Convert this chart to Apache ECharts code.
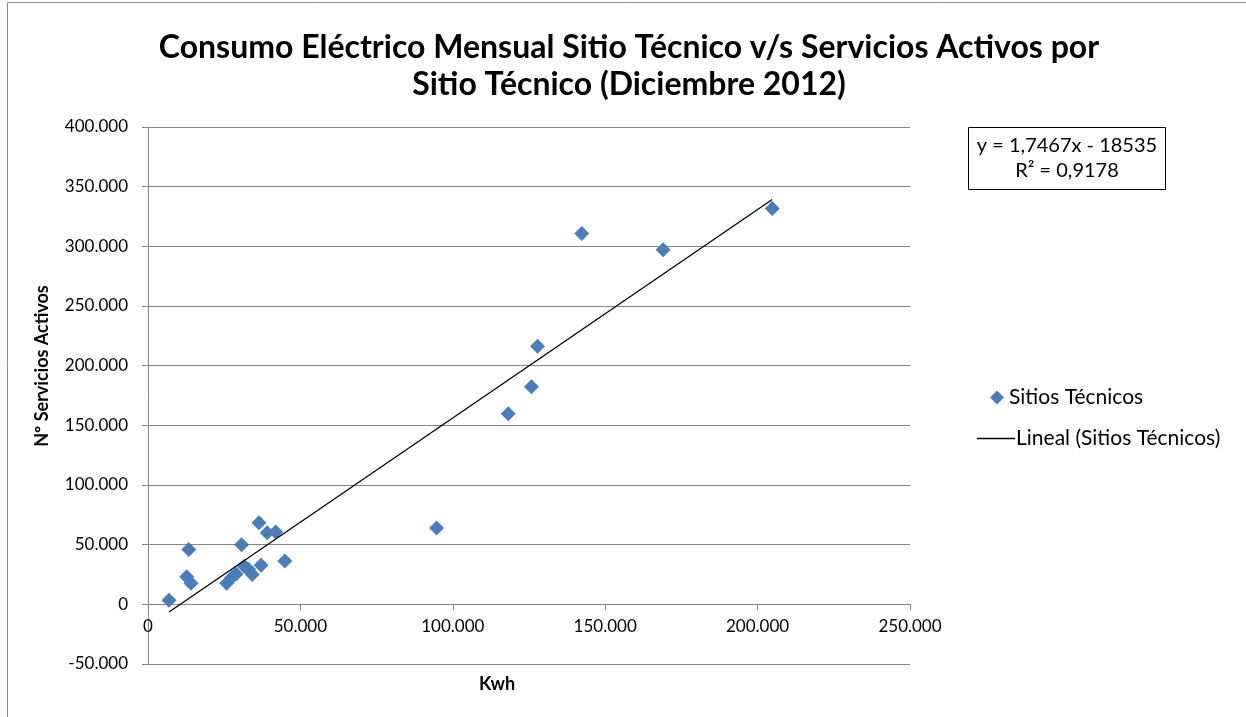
<!DOCTYPE html>
<html>
<head>
<meta charset="utf-8">
<script src="https://cdn.jsdelivr.net/npm/echarts@6/dist/echarts.min.js"></script>
<style>
  html, body { margin: 0; padding: 0; background: #fff; }
  #chart { width: 1246px; height: 717px; }
</style>
</head>
<body>
<div id="chart"></div>
<script>
// Monthly consumption (kWh) per technical site and its active services
const kwh = [6900, 12700, 13400, 14100, 25800, 27500, 28900, 31600, 33000, 34200,
             30700, 37100, 44900, 36400, 39100, 41900, 94700, 118200, 125800, 127800,
             142300, 169000, 204800];
const servicios = [3400, 23200, 46000, 17600, 17600, 22400, 25500, 32000, 29500, 25100,
                   50000, 32700, 36300, 68400, 60000, 60600, 63900, 159700, 182300, 216300,
                   310700, 297100, 331700];

// Linear trend as stated in the equation box
const slope = 1.7467;
const intercept = -18535;
const r2 = 0.9178;

const xTicks = [0, 50000, 100000, 150000, 200000, 250000];
const yTicks = [-50000, 0, 50000, 100000, 150000, 200000, 250000, 300000, 350000, 400000];

const FONT = 'Lato';
const fmt = v => {
  const s = Math.abs(v).toString().replace(/\B(?=(\d{3})+(?!\d))/g, '.');
  return (v < 0 ? '-' : '') + s;
};
const fmtDec = (v, d) => v.toFixed(d).replace('.', ',');

const points = kwh.map((x, i) => [x, servicios[i]]);
const xMin = Math.min(...kwh), xMax = Math.max(...kwh);
const trend = [[xMin, slope * xMin + intercept], [xMax, slope * xMax + intercept]];

// plot box
const G = { left: 148, right: 336, top: 127, bottom: 53 };
const plotH = 717 - G.top - G.bottom;
const yMin = yTicks[0], yMax = yTicks[yTicks.length - 1];
// shift the x axis up so it sits on y = 0
const xAxisOffset = -plotH * (0 - yMin) / (yMax - yMin);

const chart = echarts.init(document.getElementById('chart'), null, { renderer: 'canvas' });
chart.setOption({
  backgroundColor: '#ffffff',
  animation: false,
  textStyle: { fontFamily: FONT, color: '#000' },
  title: {
    text: 'Consumo Eléctrico Mensual Sitio Técnico v/s Servicios Activos por\nSitio Técnico (Diciembre 2012)',
    left: 624, top: 24, textAlign: 'center',
    textStyle: { fontFamily: FONT, fontWeight: 'bold', fontSize: 32, lineHeight: 37, color: '#000' }
  },
  grid: { left: G.left, right: G.right, top: G.top, bottom: G.bottom, containLabel: false },
  xAxis: {
    type: 'value', min: xTicks[0], max: xTicks[xTicks.length - 1], interval: 50000,
    offset: xAxisOffset,
    axisLine: { onZero: false, lineStyle: { color: '#868686', width: 1 } },
    axisTick: { show: true, length: 6, lineStyle: { color: '#868686' } },
    axisLabel: { formatter: fmt, fontFamily: FONT, fontSize: 17, color: '#000', margin: 14 },
    splitLine: { show: false }
  },
  yAxis: {
    type: 'value', min: yMin, max: yMax, interval: 50000,
    axisLine: { show: true, lineStyle: { color: '#868686', width: 1 } },
    axisTick: { show: true, length: 6, lineStyle: { color: '#868686' } },
    axisLabel: { formatter: fmt, fontFamily: FONT, fontSize: 17, color: '#000', margin: 20 },
    splitLine: { show: true, lineStyle: { color: '#868686', width: 1 } }
  },
  legend: [
    {
      data: [{ name: 'Sitios Técnicos', icon: 'diamond' }],
      left: 985, top: 382, itemWidth: 14, itemHeight: 14, itemGap: 10,
      textStyle: { fontFamily: FONT, fontSize: 21, color: '#000' }
    },
    {
      data: [{ name: 'Lineal (Sitios Técnicos)', icon: 'rect', itemStyle: { color: '#000' } }],
      left: 972, top: 423, itemWidth: 38, itemHeight: 1.3, itemGap: 2,
      textStyle: { fontFamily: FONT, fontSize: 21, color: '#000', padding: [0, 0, 0, -4] }
    }
  ],
  series: [
    {
      name: 'Sitios Técnicos', type: 'scatter', data: points,
      symbol: 'diamond', symbolSize: 15,
      itemStyle: { color: '#4A7EBB', opacity: 1 }, z: 3
    },
    {
      name: 'Lineal (Sitios Técnicos)', type: 'line', data: trend,
      symbol: 'none', lineStyle: { color: '#000', width: 1.3 }, itemStyle: { color: '#000' },
      z: 4
    }
  ],
  graphic: [
    {
      type: 'rect', shape: { x: 7.5, y: 2.5, width: 1400, height: 900 },
      style: { fill: null, stroke: '#8c8c8c', lineWidth: 1 }, silent: true
    },
    {
      type: 'text', x: 42, y: 366, rotation: Math.PI / 2,
      style: { text: 'Nº Servicios Activos', x: 0, y: 0, align: 'center', verticalAlign: 'middle',
               font: 'bold 18px ' + FONT, fill: '#000' }
    },
    {
      type: 'text', x: 497, y: 684,
      style: { text: 'Kwh', align: 'center', verticalAlign: 'middle',
               font: 'bold 18px ' + FONT, fill: '#000' }
    },
    {
      type: 'group', left: 968, top: 127,
      children: [
        { type: 'rect', shape: { x: 0.5, y: 0.5, width: 197, height: 62 },
          style: { fill: '#fff', stroke: '#000', lineWidth: 1 } },
        { type: 'text', x: 99, y: 19,
          style: { text: 'y = ' + fmtDec(slope, 4) + 'x - ' + Math.abs(intercept), align: 'center',
                   verticalAlign: 'middle', font: '20px ' + FONT, fill: '#000' } },
        { type: 'text', x: 99, y: 44,
          style: { text: 'R² = ' + fmtDec(r2, 4), align: 'center',
                   verticalAlign: 'middle', font: '20px ' + FONT, fill: '#000' } }
      ]
    }
  ]
});
</script>
</body>
</html>
